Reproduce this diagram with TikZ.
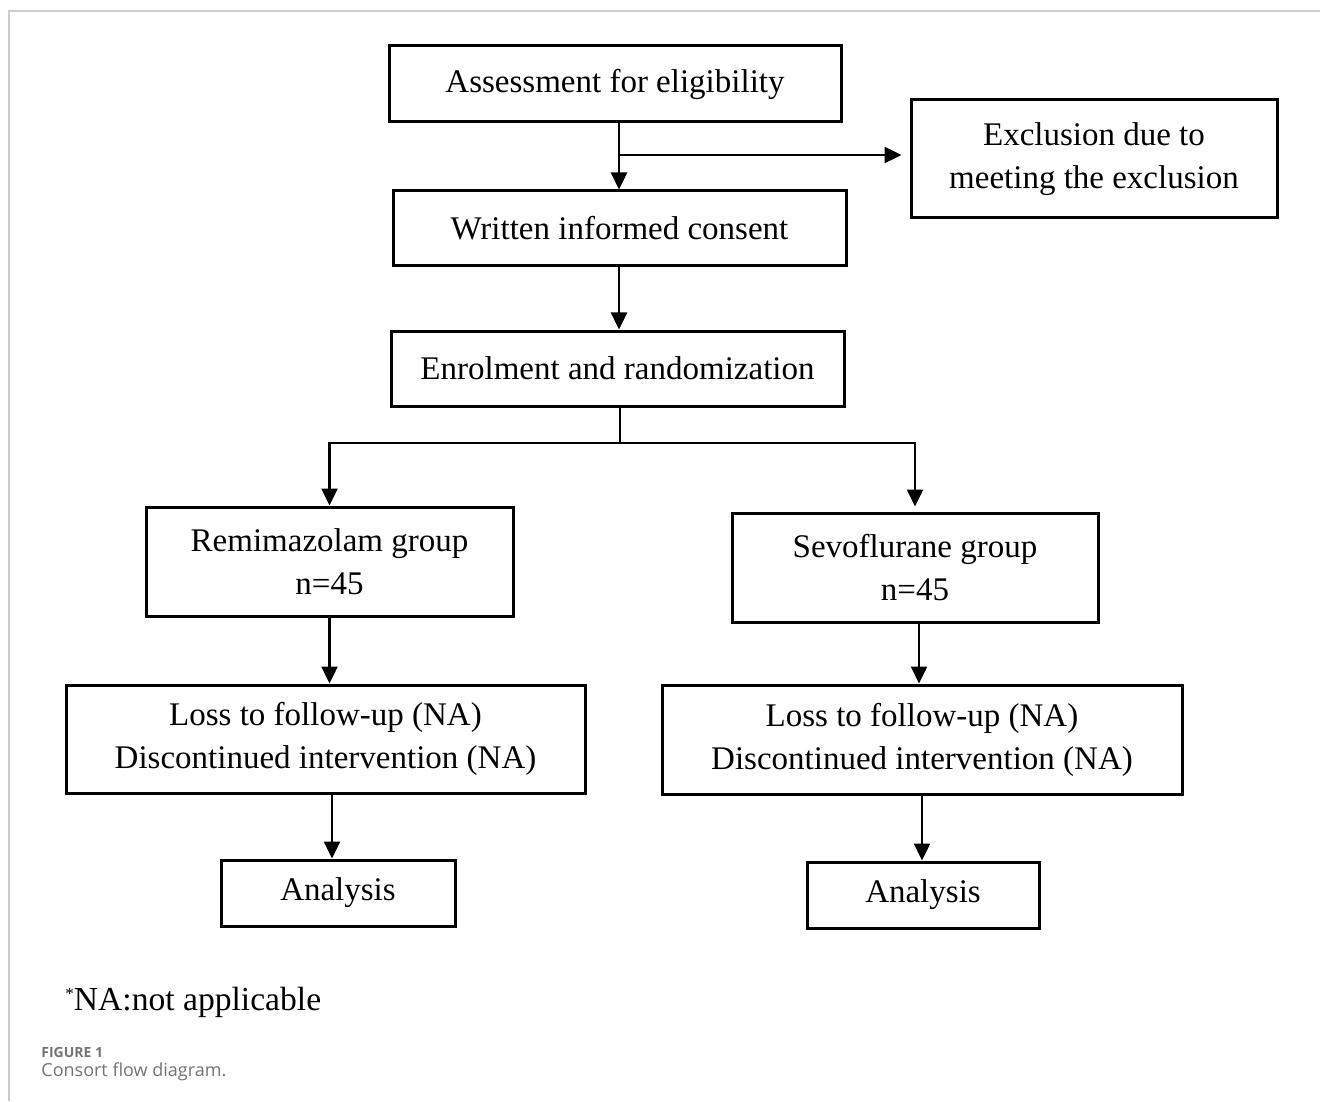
\documentclass[tikz,border=0pt]{standalone}
\usepackage{fontspec}
\setmainfont{Liberation Serif}
\newfontfamily\capfont{Open Sans}
\usetikzlibrary{arrows.meta,positioning}

\begin{document}
\begin{tikzpicture}
		[x=0.5pt,y=-0.5pt,
		box/.style ={rectangle, draw=black, line width=1.5pt, align=center, inner sep=0pt, font=\fontsize{16.5}{21.5}\selectfont},
		line/.style ={draw, line width=1.2pt, -{Triangle[length=8.5pt,width=8pt]}},
		stem/.style ={draw, line width=1.2pt}]
		\useasboundingbox (0,0) rectangle (1320,1101);
		\draw[black!20, line width=0.8pt] (9,1101) |- (1320,11);

		\node[box, minimum width=226pt, minimum height=38pt] (assess) at (615,84) {Assessment for eligibility};
		\node[box, minimum width=183pt, minimum height=59pt] (excl) at (1094,159) {Exclusion due to\\meeting the exclusion};
		\node[box, minimum width=226.5pt, minimum height=37.5pt] (consent) at (619.5,228.5) {Written informed consent};
		\node[box, minimum width=226.5pt, minimum height=37.5pt] (enrol) at (617.5,368.5) {Enrolment and randomization};
		\node[box, minimum width=183.5pt, minimum height=54.5pt] (remi) at (329.5,561.5) {Remimazolam group\\n=45};
		\node[box, minimum width=183pt, minimum height=54.5pt] (sevo) at (915,567.5) {Sevoflurane group\\n=45};
		\node[box, minimum width=259.5pt, minimum height=54pt] (lossL) at (325.5,739) {Loss to follow-up (NA)\\Discontinued intervention (NA)};
		\node[box, minimum width=260pt, minimum height=54.5pt] (lossR) at (922,739.5) {Loss to follow-up (NA)\\Discontinued intervention (NA)};
		\node[box, minimum width=117pt, minimum height=33pt] (anaL) at (338,893) {Analysis};
		\node[box, minimum width=116pt, minimum height=33pt] (anaR) at (923,895) {Analysis};

		\coordinate (split) at (619,155);
		\coordinate (fork) at (620,443);
		\coordinate (stepL) at (332,0);

		\path[line] (assess.south -| split) -- (consent.north -| split);
		\path[line, shorten >=4pt] (split) -- (excl.west |- split);
		\path[line] (consent.south -| split) -- (enrol.north -| split);
		\path[stem] (enrol.south -| fork) -- (fork);
		\path[line] (fork) -| (remi.north);
		\path[line, shorten >=2.5pt] (fork) -| (sevo.north);
		\path[line] (remi.south) -- (remi.south |- lossL.north);
		\path[line] ([xshift=2pt]sevo.south) -- ([xshift=2pt]sevo.south |- lossR.north);
		\path[line] (lossL.south -| stepL) -- (anaL.north -| stepL);
		\path[line] (lossR.south) -- (lossR.south |- anaR.north);

		\node[anchor=base west, inner sep=0pt, font=\fontsize{16.8}{19}\selectfont] (note) at (65,1010) {\raisebox{5.5pt}{\fontsize{8.5}{8}\selectfont *}NA:not applicable};
		\node[anchor=west, inner sep=0pt, text=black!55, font=\capfont\bfseries\fontsize{7}{8}\selectfont] (fig) at (41,1052) {FIGURE 1};
		\node[anchor=west, inner sep=0pt, text=black!55, font=\capfont\fontsize{9}{11}\selectfont] (cap) at (41,1072) {Consort flow diagram.};

	\end{tikzpicture}
\end{document}
